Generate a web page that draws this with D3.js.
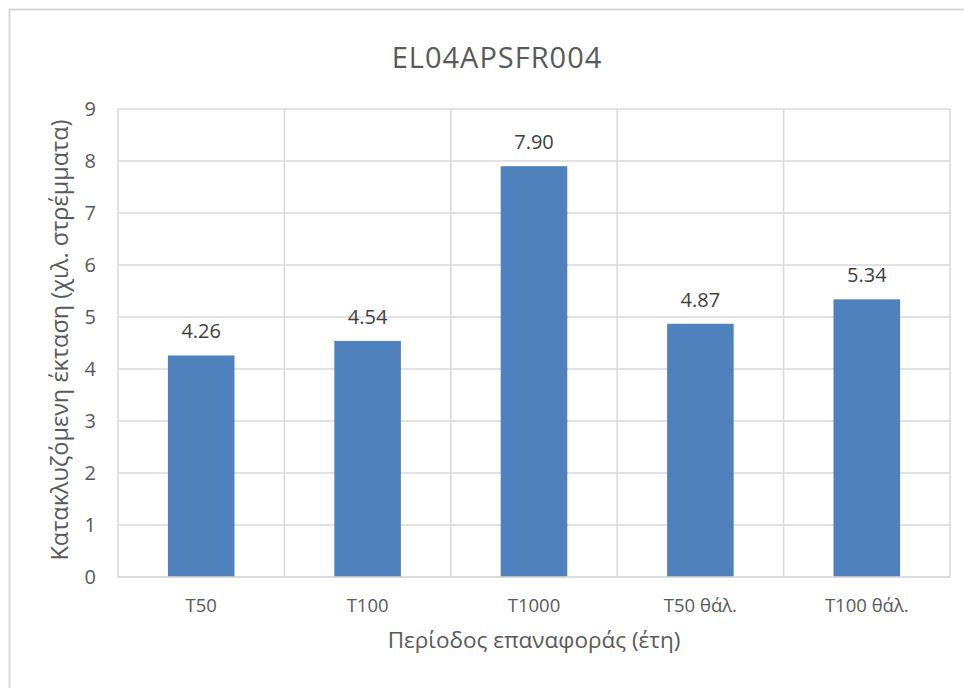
<!DOCTYPE html>
<html>
<head>
<meta charset="utf-8">
<script src="https://cdn.jsdelivr.net/npm/d3@7"></script>
<style>
  body { margin: 0; background: #fff; }
  text { font-family: "Open Sans", "DejaVu Sans", sans-serif; }
</style>
</head>
<body>
<script>
// data
var categories = ["T50", "T100", "T1000", "T50 θάλ.", "T100 θάλ."];
var values = [4.26, 4.54, 7.90, 4.87, 5.34];
var yTicks = [0, 1, 2, 3, 4, 5, 6, 7, 8, 9];

var chartTitle = "EL04APSFR004";
var xTitle = "Περίοδος επαναφοράς (έτη)";
var yTitle = "Κατακλυζόμενη έκταση (χιλ. στρέμματα)";

var W = 964, H = 688;
var margin = {top: 109, right: 14, bottom: 111, left: 118};
var width = W - margin.left - margin.right,
  height = H - margin.top - margin.bottom;

var svg = d3.select("body").append("svg")
  .attr("width", W)
  .attr("height", H);

// outer chart border
svg.append("rect")
  .attr("x", 9.5).attr("y", 9.5)
  .attr("width", W + 20).attr("height", H + 20)
  .attr("fill", "#fff")
  .attr("stroke", "#d9d9d9")
  .attr("stroke-width", 2);

var g = svg.append("g")
  .attr("transform", "translate(" + margin.left + "," + margin.top + ")");

var x = d3.scaleBand().domain(categories).range([0, width]).paddingInner(0).paddingOuter(0);
var y = d3.scaleLinear().domain([0, 9]).range([height, 0]);

// horizontal gridlines
g.selectAll("line.hgrid").data(yTicks).enter()
  .append("line")
  .attr("class", "hgrid")
  .attr("x1", 0).attr("x2", width)
  .attr("y1", function (d) { return y(d); })
  .attr("y2", function (d) { return y(d); })
  .attr("stroke", "#d9d9d9").attr("stroke-width", 1.5);

// vertical gridlines at category boundaries
var bounds = categories.map(function (c) { return x(c); }).concat([width]);
g.selectAll("line.vgrid").data(bounds).enter()
  .append("line")
  .attr("class", "vgrid")
  .attr("x1", function (d) { return d; }).attr("x2", function (d) { return d; })
  .attr("y1", 0).attr("y2", height)
  .attr("stroke", "#d9d9d9").attr("stroke-width", 1.5);

// bars
var barW = x.bandwidth() * 0.4;
g.selectAll("rect.bar").data(values).enter()
  .append("rect")
  .attr("class", "bar")
  .attr("x", function (d, i) { return x(categories[i]) + (x.bandwidth() - barW) / 2; })
  .attr("y", function (d) { return y(d); })
  .attr("width", barW)
  .attr("height", function (d) { return height - y(d); })
  .attr("fill", "#4f81bd");

// data labels
g.selectAll("text.lbl").data(values).enter()
  .append("text")
  .attr("class", "lbl")
  .attr("x", function (d, i) { return x(categories[i]) + x.bandwidth() / 2; })
  .attr("y", function (d) { return y(d) - 17; })
  .attr("text-anchor", "middle")
  .attr("font-size", 20)
  .attr("fill", "#404040")
  .text(function (d) { return d.toFixed(2); });

// x axis line
g.append("line")
  .attr("x1", 0).attr("x2", width)
  .attr("y1", height).attr("y2", height)
  .attr("stroke", "#d9d9d9").attr("stroke-width", 1.5);

// y tick labels
g.selectAll("text.ytick").data(yTicks).enter()
  .append("text")
  .attr("class", "ytick")
  .attr("x", -22)
  .attr("y", function (d) { return y(d); })
  .attr("dy", "0.35em")
  .attr("text-anchor", "end")
  .attr("font-size", 20)
  .attr("fill", "#595959")
  .text(function (d) { return d; });

// x tick labels
g.selectAll("text.xtick").data(categories).enter()
  .append("text")
  .attr("class", "xtick")
  .attr("x", function (d) { return x(d) + x.bandwidth() / 2; })
  .attr("y", height + 29)
  .attr("dy", "0.35em")
  .attr("text-anchor", "middle")
  .attr("font-size", 18.5)
  .attr("fill", "#595959")
  .text(function (d) { return d; });

// title
svg.append("text")
  .attr("x", 497).attr("y", 68)
  .attr("text-anchor", "middle")
  .attr("font-size", 29)
  .attr("letter-spacing", 1)
  .attr("fill", "#595959")
  .text(chartTitle);

// axis titles
svg.append("text")
  .attr("x", margin.left + width / 2).attr("y", H - 40)
  .attr("text-anchor", "middle")
  .attr("font-size", 22.5)
  .attr("fill", "#595959")
  .text(xTitle);

svg.append("text")
  .attr("transform", "translate(68," + (margin.top + height / 2 - 3) + ") rotate(-90)")
  .attr("text-anchor", "middle")
  .attr("font-size", 23.5)
  .attr("fill", "#595959")
  .text(yTitle);
</script>
</body>
</html>
